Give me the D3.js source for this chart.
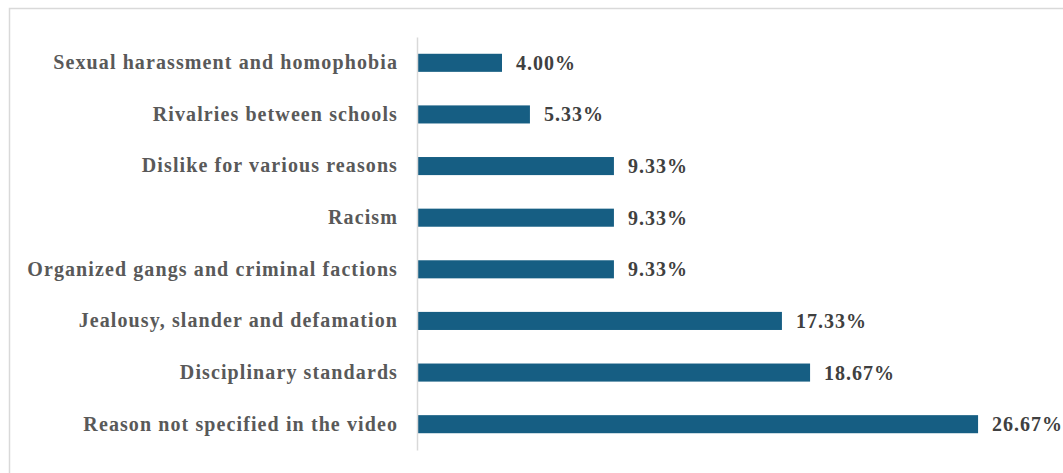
<!DOCTYPE html>
<html>
<head>
<meta charset="utf-8">
<script src="https://cdn.jsdelivr.net/npm/d3@7"></script>
<style>
  body { margin: 0; background: #fff; }
  .label text { font-family: "Liberation Serif", "Times New Roman", serif; font-weight: bold; font-size: 20px; fill: #595959; }
  .value { font-family: "Liberation Serif", "Times New Roman", serif; font-weight: bold; font-size: 20px; fill: #404040; }
</style>
</head>
<body>
<div class="chart"></div>
<script>
let categories = [
  "Sexual harassment and homophobia",
  "Rivalries between schools",
  "Dislike for various reasons",
  "Racism",
  "Organized gangs and criminal factions",
  "Jealousy, slander and defamation",
  "Disciplinary standards",
  "Reason not specified in the video"
];
let values = [4.00, 5.33, 9.33, 9.33, 9.33, 17.33, 18.67, 26.67];
let valueLabels = ["4.00%", "5.33%", "9.33%", "9.33%", "9.33%", "17.33%", "18.67%", "26.67%"];

let svgWidth = 1063;
let svgHeight = 473;

let svg = d3.select(".chart")
  .append("svg")
  .attr("width", svgWidth)
  .attr("height", svgHeight);

// outer frame
svg.append("rect")
  .attr("x", 9.5)
  .attr("y", 8.5)
  .attr("width", 1070)
  .attr("height", 480)
  .attr("fill", "none")
  .attr("stroke", "#d9d9d9")
  .attr("stroke-width", 1.5);

let x = d3.scaleLinear().domain([0, 30]).range([418, 1048]);
let y = d3.scaleBand()
  .domain(categories)
  .range([37, 450])
  .paddingInner(0.65)
  .paddingOuter(0.325);

let data = categories.map((c, i) => ({ cat: c, val: values[i], lab: valueLabels[i] }));

svg.selectAll("rect.bar")
  .data(data)
  .enter().append("rect")
    .attr("class", "bar")
    .attr("x", x(0))
    .attr("y", d => y(d.cat))
    .attr("width", d => x(d.val) - x(0))
    .attr("height", y.bandwidth())
    .attr("fill", "#165e83");

let leftAxis = d3.axisLeft(y).tickSize(0).tickPadding(19);
let axisG = svg.append("g")
  .attr("class", "label")
  .attr("transform", `translate(${x(0) - 1}, 0)`)
  .call(leftAxis);
axisG.select(".domain").attr("stroke", "#d9d9d9").attr("stroke-width", 1.5);
axisG.selectAll("text").style("letter-spacing", "1.1px");

svg.selectAll("text.value")
  .data(data)
  .enter().append("text")
    .attr("class", "value")
    .attr("x", d => x(d.val) + 14)
    .attr("y", d => y(d.cat) + y.bandwidth() / 2)
    .attr("dy", "0.35em")
    .style("letter-spacing", "1px")
    .text(d => d.lab);
</script>
</body>
</html>
